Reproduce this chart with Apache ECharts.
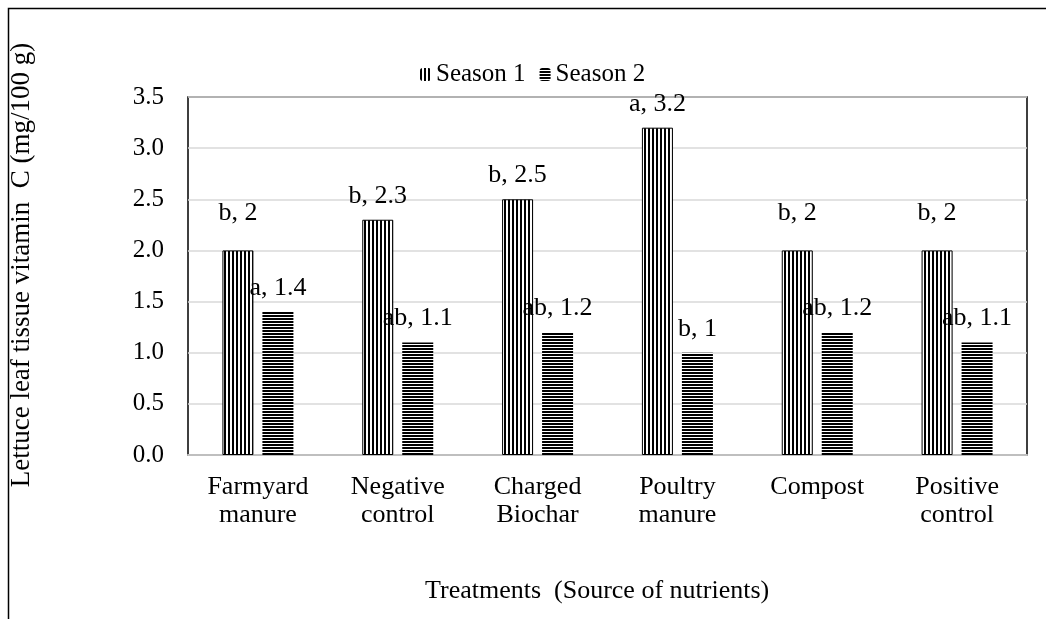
<!DOCTYPE html>
<html>
<head>
    <meta charset="utf-8" />
    <title>Lettuce vitamin C</title>
    <script src="https://cdn.jsdelivr.net/npm/echarts@6/dist/echarts.min.js"></script>
    <style type="text/css">
        * { margin: 0; padding: 0 }
        html, body { background: #fff; }
        #main { width: 1046px; height: 619px; }
    </style>
</head>
<body>
<div id="main"></div>
<script>
    // data
    var categories = ['Farmyard\nmanure', 'Negative\ncontrol', 'Charged\nBiochar', 'Poultry\nmanure', 'Compost', 'Positive\ncontrol'];
    var season1 = [2, 2.3, 2.5, 3.2, 2, 2];
    var season2 = [1.4, 1.1, 1.2, 1, 1.2, 1.1];
    var season1Letters = ['b', 'b', 'b', 'a', 'b', 'b'];
    var season2Letters = ['a', 'ab', 'ab', 'b', 'ab', 'ab'];

    var FONT = '"Liberation Serif", "Times New Roman", serif';

    // stripe patterns (vertical for season 1, horizontal for season 2)
    function stripes(vertical) {
        var c = document.createElement('canvas');
        var ctx = c.getContext('2d');
        if (vertical) {
            c.width = 4; c.height = 4;
            ctx.fillStyle = '#fff'; ctx.fillRect(0, 0, 4, 4);
            ctx.fillStyle = '#000'; ctx.fillRect(0, 0, 2, 4);
        } else {
            c.width = 4; c.height = 3;
            ctx.fillStyle = '#fff'; ctx.fillRect(0, 0, 4, 3);
            ctx.fillStyle = '#000'; ctx.fillRect(0, 0, 4, 2);
        }
        return { image: c, repeat: 'repeat' };
    }

    // excel put the labels of the 2.0 bars a bit higher
    var s1Data = season1.map(function (v) {
        return v === 2 ? { value: v, label: { offset: [0, -13] } } : v;
    });

    var chart = echarts.init(document.getElementById('main'));
    chart.setOption({
        animation: false,
        textStyle: { fontFamily: FONT },
        grid: {
            left: 188, right: 19, top: 97, bottom: 164,
            outerBoundsMode: 'none', containLabel: false,
            show: true, borderColor: '#000', borderWidth: 1.5
        },
        legend: {
            left: 415, top: 57,
            itemWidth: 11, itemHeight: 13, itemGap: 14,
            itemStyle: { borderWidth: 0 },
            textStyle: { fontFamily: FONT, fontSize: 25, color: '#000' },
            data: ['Season 1', 'Season 2']
        },
        graphic: [
            {
                type: 'rect', silent: true,
                shape: { x: 8.5, y: 8.5, width: 1200, height: 800 },
                style: { fill: 'none', stroke: '#000', lineWidth: 1.5 }
            },
            {
                type: 'text', left: 425, top: 578,
                style: { text: 'Treatments  (Source of nutrients)', font: '26px ' + FONT, fill: '#000' }
            },
            {
                type: 'text', x: 22, y: 265, rotation: Math.PI / 2,
                style: {
                    text: 'Lettuce leaf tissue vitamin  C (mg/100 g)', font: '27px ' + FONT, fill: '#000',
                    align: 'center', verticalAlign: 'middle'
                }
            }
        ],
        xAxis: {
            type: 'category',
            data: categories,
            axisTick: { show: false },
            axisLine: { lineStyle: { color: '#bfbfbf', width: 2 } },
            axisLabel: { color: '#000', fontSize: 26, lineHeight: 28, margin: 18, interval: 0 }
        },
        yAxis: {
            type: 'value',
            min: 0, max: 3.5, interval: 0.5,
            axisLine: { show: false },
            axisTick: { show: false },
            splitLine: { lineStyle: { color: '#d9d9d9', width: 1.5 } },
            axisLabel: {
                color: '#000', fontSize: 25, margin: 24,
                formatter: function (v) { return v.toFixed(1); }
            }
        },
        series: [
            {
                name: 'Season 1', type: 'bar',
                barWidth: 31, barGap: '29%',
                data: s1Data,
                itemStyle: { color: stripes(true), borderColor: '#000', borderWidth: 1 },
                label: {
                    show: true, position: 'top', distance: 11,
                    color: '#000', fontSize: 26, fontFamily: FONT,
                    formatter: function (p) { return season1Letters[p.dataIndex] + ', ' + p.value; }
                }
            },
            {
                name: 'Season 2', type: 'bar',
                barWidth: 31,
                data: season2,
                itemStyle: { color: stripes(false) },
                label: {
                    show: true, position: 'top', distance: 11,
                    color: '#000', fontSize: 26, fontFamily: FONT,
                    formatter: function (p) { return season2Letters[p.dataIndex] + ', ' + p.value; }
                }
            }
        ]
    });
</script>
</body>
</html>
